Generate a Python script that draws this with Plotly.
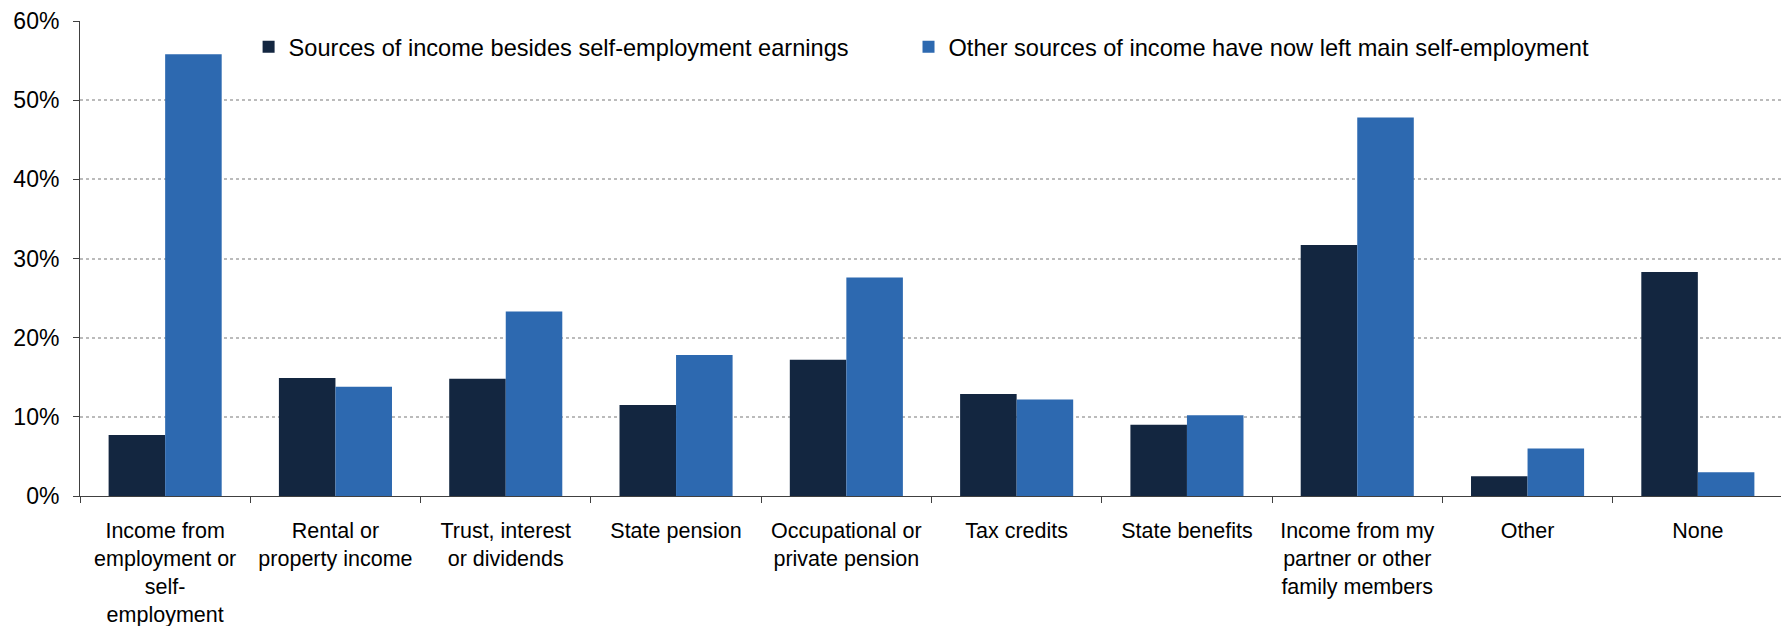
import plotly.graph_objects as go

categories = [
    "Income from<br>employment or<br>self-<br>employment",
    "Rental or<br>property income",
    "Trust, interest<br>or dividends",
    "State pension",
    "Occupational or<br>private pension",
    "Tax credits",
    "State benefits",
    "Income from my<br>partner or other<br>family members",
    "Other",
    "None",
]
besides_self_emp = [7.7, 14.9, 14.8, 11.5, 17.2, 12.9, 9.0, 31.7, 2.5, 28.3]
left_self_emp = [55.8, 13.8, 23.3, 17.8, 27.6, 12.2, 10.2, 47.8, 6.0, 3.0]

names = [
    "Sources of income besides self-employment earnings",
    "Other sources of income have now left main self-employment",
]
colors = ["#132640", "#2D69B0"]
legend_refs = ["legend", "legend2"]

fig = go.Figure()
for name, vals, col, lg in zip(names, [besides_self_emp, left_self_emp], colors, legend_refs):
    fig.add_trace(go.Bar(x=categories, y=vals, name=name, marker_color=col,
                         marker_line_width=0, legend=lg, showlegend=True))

legend_style = dict(orientation="h", xanchor="left", yanchor="middle", y=0.9453,
                    bgcolor="rgba(0,0,0,0)", font=dict(size=23.6), itemwidth=30)

fig.update_layout(
    width=1789, height=626,
    margin=dict(l=72, r=14, t=13, b=138),
    plot_bgcolor="white", paper_bgcolor="white",
    font=dict(family="Liberation Sans, Arial, sans-serif", size=21.5, color="#000"),
    barmode="group", bargap=0.336, bargroupgap=0,
    showlegend=True,
    legend=dict(x=0.0990, **legend_style),
    legend2=dict(x=0.4865, **legend_style),
)
fig.update_xaxes(showline=True, linecolor="#404040", linewidth=1,
                 ticks="outside", tickson="boundaries", ticklen=6,
                 tickcolor="#404040", showgrid=False, automargin=False,
                 tickangle=0, ticklabelstandoff=15, ticklabeloverflow="allow")
fig.update_yaxes(range=[0, 60], dtick=10, ticksuffix="%", showline=True,
                 linecolor="#404040", linewidth=1, ticks="outside", ticklen=6,
                 tickcolor="#404040", tickfont=dict(size=23), ticklabelstandoff=9,
                 ticklabeloverflow="allow",
                 showgrid=True, gridcolor="#BBBBBB",
                 griddash="dot", gridwidth=2, zeroline=False, automargin=False)

fig.write_html("out.html")
